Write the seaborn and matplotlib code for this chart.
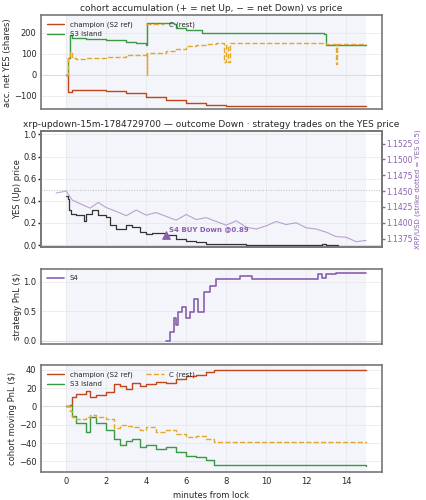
import numpy as np
import pandas as pd
import seaborn as sns
import matplotlib.pyplot as plt

# cohort accumulation (shares)
t_champ = [0, 0.1, 0.3, 1, 2, 3, 4, 5, 6, 7, 8, 15]
champ_acc = [0, -80, -70, -72, -78, -88, -105, -120, -135, -146, -150, -150]
t_s3 = [0, 0.1, 0.2, 0.3, 1, 2, 3, 3.5, 4, 4.05, 5.4, 5.5, 6, 6.8, 7, 12.9, 13.0, 15]
s3_acc = [0, 80, 190, 175, 170, 165, 155, 150, 140, 245, 240, 225, 215, 200, 200, 195, 140, 140]
t_c = [0, 0.1, 0.2, 0.3, 0.5, 1, 2, 3, 4, 4.02, 4.05, 5, 5.5, 6.0, 6.5, 7.0, 7.5, 7.9, 8.0, 8.1, 8.2, 10, 12.9, 13.0, 13.5, 13.55, 15]
c_acc = [0, 80, 110, 80, 75, 78, 85, 95, 100, 0, 102, 115, 125, 135, 140, 145, 150, 60, 140, 60, 150, 150, 150, 145, 50, 145, 145]

# YES price and XRP spot
t_yes = [0, 0.1, 0.15, 0.25, 0.5, 0.9, 1.0, 1.3, 1.6, 2.0, 2.2, 2.5, 3.0, 3.3, 3.7, 4.0, 4.3, 5.0, 5.5, 6.0, 6.5, 7.0, 7.5, 9, 11, 12.8, 13.0, 13.6]
yes_p = [0.44, 0.42, 0.32, 0.28, 0.27, 0.22, 0.28, 0.32, 0.27, 0.25, 0.18, 0.15, 0.18, 0.16, 0.12, 0.10, 0.11, 0.09, 0.06, 0.04, 0.03, 0.01, 0.01, 0.005, 0.005, 0.01, 0.005, 0.005]
t_xrp = [-0.5, 0, 0.3, 0.7, 1.2, 1.6, 2, 2.5, 3, 3.5, 4, 4.5, 5, 5.5, 6, 6.5, 7, 7.5, 8, 8.5, 9, 9.5, 10, 10.5, 11, 11.5, 12, 12.5, 13, 13.5, 14, 14.5, 15]
xrp = [1.1447, 1.1450, 1.1436, 1.1430, 1.1423, 1.1432, 1.1424, 1.1418, 1.1411, 1.1420, 1.1412, 1.1416, 1.1410, 1.1404, 1.1413, 1.1405, 1.1408, 1.1402, 1.1396, 1.1403, 1.1393, 1.1390, 1.1395, 1.1402, 1.1397, 1.1400, 1.1392, 1.1390, 1.1385, 1.1378, 1.1377, 1.1370, 1.1372]
xrp_ticks = [1.1375, 1.1400, 1.1425, 1.1450, 1.1475, 1.1500, 1.1525]

# strategy PnL
t_s4 = [5.0, 5.2, 5.4, 5.5, 5.6, 5.8, 6.0, 6.2, 6.4, 6.6, 6.9, 7.2, 7.5, 8.7, 9.3, 12.6, 12.8, 13.0, 13.5, 15]
s4_pnl = [0.0, 0.15, 0.38, 0.27, 0.48, 0.58, 0.38, 0.48, 0.70, 0.48, 0.82, 0.93, 1.05, 1.10, 1.05, 1.14, 1.07, 1.14, 1.15, 1.15]

# cohort moving PnL
t_cp = [0, 0.2, 0.3, 0.5, 1.0, 1.2, 1.5, 2.0, 2.4, 2.7, 3.0, 3.3, 3.7, 4.0, 4.5, 5.0, 5.5, 6.0, 6.5, 7.0, 7.4, 15]
champ_pnl = [0, 2, 10, 14, 17, 10, 12, 16, 24, 22, 19, 25, 22, 24, 27, 26, 30, 33, 34, 38, 40, 40]
s3_pnl = [0, 2, -10, -18, -28, -12, -18, -26, -35, -42, -38, -35, -44, -42, -46, -44, -50, -54, -55, -58, -64, -65]
c_pnl = [0, -5, -12, -14, -12, -9, -12, -14, -24, -20, -21, -22, -26, -22, -28, -26, -30, -33, -32, -36, -39, -40]

RED, GREEN, GOLD, PURPLE = "#c0471c", "#3a9a44", "#e3a82b", "#8a5fb0"

sns.set_theme(style="whitegrid", context="paper")
plt.rcParams["font.family"] = ["DejaVu Sans"]
plt.rcParams["font.size"] = 6

fig, axes = plt.subplots(4, 1, figsize=(4.27, 5.0), dpi=100, sharex=True,
                         gridspec_kw={"height_ratios": [95, 117, 75, 108]})
fig.subplots_adjust(left=0.095, right=0.895, top=0.97, bottom=0.055, hspace=0.22)

for ax in axes:
    ax.axvspan(0, 15, color="#eef1f8", alpha=0.7, lw=0, zorder=0)
    ax.grid(color="#e6e6e6", lw=0.5)
    ax.tick_params(labelsize=6, length=2, pad=1)
    for s in ax.spines.values():
        s.set_color("#777777")
        s.set_linewidth(1.2)
    ax.axhline(0, color="#dddddd", lw=0.8, zorder=1)

ax = axes[0]
ax.step(t_champ, champ_acc, where="post", color=RED, lw=1, label="champion (S2 ref)")
ax.step(t_s3, s3_acc, where="post", color=GREEN, lw=1, label="S3 island")
ax.step(t_c, c_acc, where="post", color=GOLD, lw=1, ls="--", label="C (rest)")
ax.set_ylim(-165, 285)
ax.set_ylabel("acc. net YES (shares)", fontsize=6, labelpad=1)
ax.set_title("cohort accumulation (+ = net Up, − = net Down) vs price", fontsize=6.5, pad=3)
ax.legend(loc="upper left", ncol=2, fontsize=5, frameon=False, handlelength=2.5)

ax = axes[1]
ax.step(t_yes, yes_p, where="post", color="#333333", lw=0.9)
ax.axhline(0.5, color="#bbbbbb", lw=0.7, ls=":")
ax.scatter([5.0], [0.09], marker="^", s=30, color=PURPLE, zorder=5)
ax.text(5.15, 0.13, "S4 BUY Down @0.89", color=PURPLE, fontsize=5, fontweight="bold")
ax.set_ylim(-0.02, 1.03)
ax.set_ylabel("YES (Up) price", fontsize=6, labelpad=1)
ax.set_title("xrp-updown-15m-1784729700 — outcome Down · strategy trades on the YES price", fontsize=6.5, pad=3)
tw = ax.twinx()
sns.lineplot(x=t_xrp, y=xrp, ax=tw, color=PURPLE, lw=0.8, alpha=0.55)
tw.set_ylim(1.1361, 1.1545)
tw.set_yticks(xrp_ticks)
tw.set_yticklabels([f"{v:.4f}" for v in xrp_ticks])
tw.grid(False)
tw.tick_params(labelsize=5.5, colors=PURPLE, length=2, pad=1)
tw.set_ylabel("XRP/USD (strike dotted = YES 0.5)", fontsize=5, color=PURPLE, labelpad=1)
for s in tw.spines.values():
    s.set_color("#777777")
    s.set_linewidth(1.2)

ax = axes[2]
ax.step(t_s4, s4_pnl, where="post", color=PURPLE, lw=1.2, label="S4")
ax.set_ylim(-0.05, 1.22)
ax.set_ylabel("strategy PnL ($)", fontsize=6, labelpad=1)
ax.legend(loc="upper left", fontsize=5, frameon=False, handlelength=2.5)

ax = axes[3]
ax.step(t_cp, champ_pnl, where="post", color=RED, lw=1, label="champion (S2 ref)")
ax.step(t_cp, s3_pnl, where="post", color=GREEN, lw=1, label="S3 island")
ax.step(t_cp, c_pnl, where="post", color=GOLD, lw=1, ls="--", label="C (rest)")
ax.set_ylim(-72, 45)
ax.set_ylabel("cohort moving PnL ($)", fontsize=6, labelpad=1)
ax.set_xlabel("minutes from lock", fontsize=6)
ax.legend(loc="upper left", ncol=2, fontsize=5, frameon=False, handlelength=2.5)
ax.set_xlim(-1.28, 15.8)
ax.set_xticks(range(0, 15, 2))
for a in axes[:3]:
    a.tick_params(labelbottom=False)

fig.savefig("out.png", dpi=100)
